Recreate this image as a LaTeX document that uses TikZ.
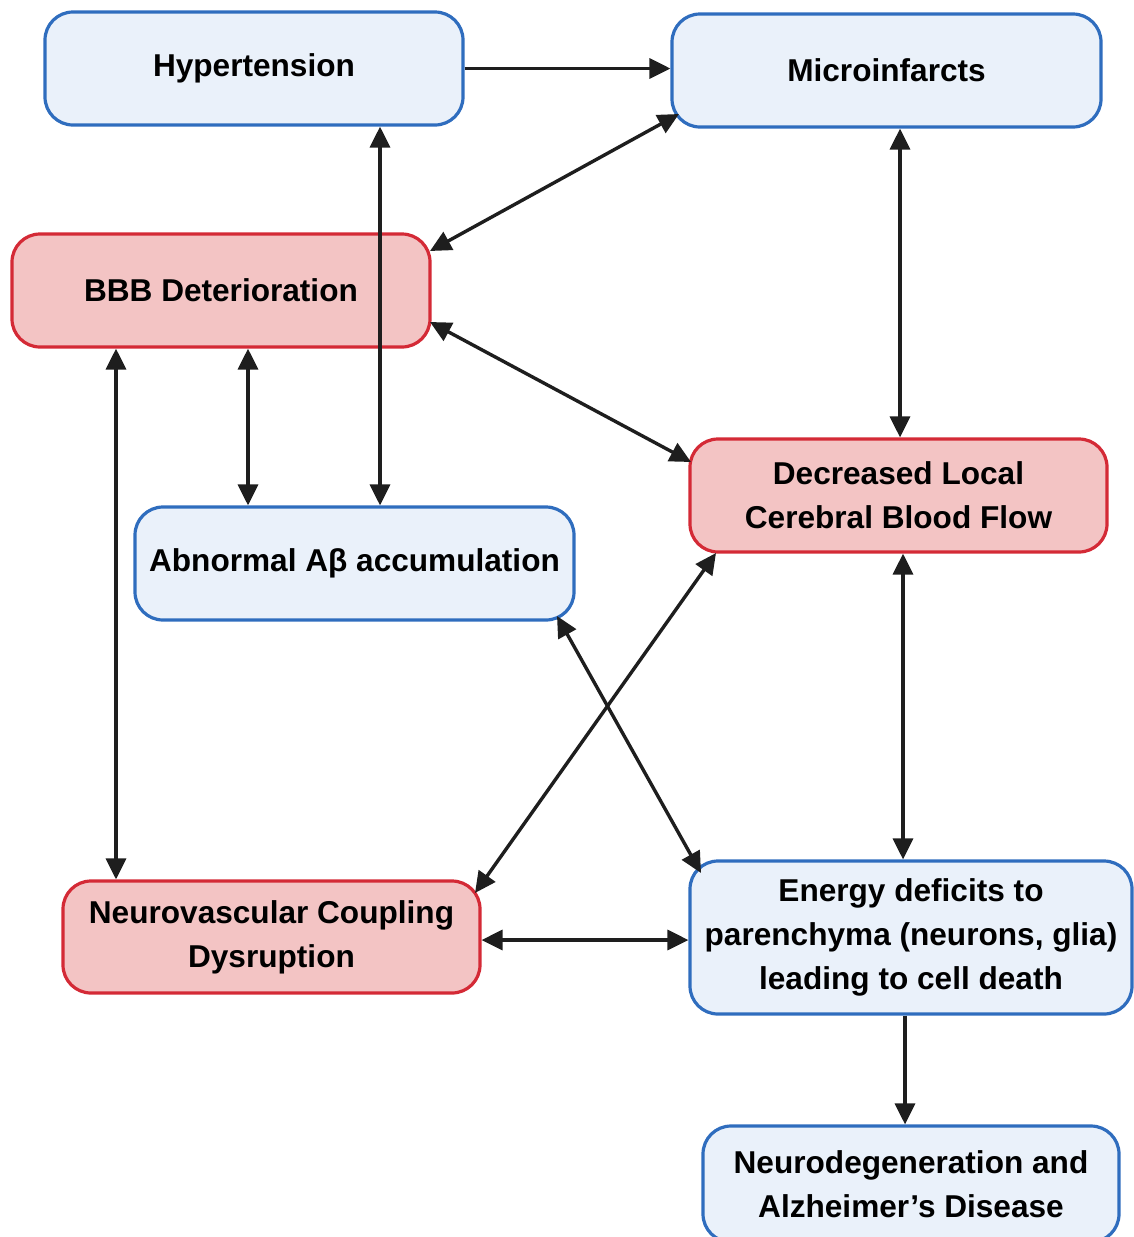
\documentclass[tikz,border=0pt]{standalone}
\usepackage{fontspec}
\setmainfont{Liberation Sans}
\usetikzlibrary{arrows.meta}
\definecolor{bfill}{HTML}{EAF1FA}
\definecolor{bdraw}{HTML}{2F6DBE}
\definecolor{rfill}{HTML}{F3C4C4}
\definecolor{rdraw}{HTML}{D42A36}
\definecolor{arr}{HTML}{1E1E1E}
\tikzset{
  box/.style={rounded corners=14pt, line width=1.6pt, align=center,
    font=\bfseries\fontsize{15.8}{22}\selectfont, inner sep=0pt},
  bluebox/.style={box, draw=bdraw, fill=bfill},
  redbox/.style={box, draw=rdraw, fill=rfill},
  link/.style={draw=arr, line width=1.7pt, -{Triangle[length=10.5pt,width=10pt]}},
  blink/.style={draw=arr, line width=1.7pt, {Triangle[length=10.5pt,width=10pt]}-{Triangle[length=10.5pt,width=10pt]}}
}
\begin{document}
\begin{tikzpicture}[x=0.5pt,y=-0.5pt]
\useasboundingbox (0,0) rectangle (1134,1237);
\node[bluebox, minimum width=209pt, minimum height=56.5pt] (hyp) at (254,68.5) {Hypertension};
\node[bluebox, minimum width=214.5pt, minimum height=56.5pt] (mic) at (886.5,70.5) {Microinfarcts};
\node[redbox, minimum width=209pt, minimum height=56.5pt] (bbb) at (221,290.5) {BBB Deterioration};
\node[redbox, minimum width=208.5pt, minimum height=56.5pt] (dcb) at (898.5,495.5) {Decreased Local\\Cerebral Blood Flow};
\node[bluebox, minimum width=219.5pt, minimum height=56.5pt] (abe) at (354.5,563.5) {Abnormal Aβ accumulation};
\node[redbox, minimum width=208.5pt, minimum height=56pt] (nvc) at (271.5,937) {Neurovascular Coupling\\Dysruption};
\node[bluebox, minimum width=221pt, minimum height=76.5pt] (ene) at (911,937.5) {Energy deficits to\\parenchyma (neurons, glia)\\leading to cell death};
\node[bluebox, minimum width=208pt, minimum height=58pt] (neu) at (911,1184) {Neurodegeneration and\\Alzheimer's Disease};

\draw[link] (hyp.east) -- (mic.west |- hyp.east);
\draw[blink] (hyp.south -| 380,0) -- (abe.north -| 380,0);
\draw[blink] (bbb.south -| 248,0) -- (abe.north -| 248,0);
\draw[blink] (bbb.south -| 116,0) -- (nvc.north -| 116,0);
\draw[blink] (mic.south -| 900,0) -- (dcb.north -| 900,0);
\draw[blink] (dcb.south -| 903,0) -- (ene.north -| 903,0);
\draw[link] (ene.south -| 905,0) -- (neu.north -| 905,0);
\draw[blink] (nvc.east |- 0,940) -- (ene.west |- 0,940);
\coordinate (m1) at (679,114);
\coordinate (b1) at (430,251);
\draw[blink] (m1) -- (b1);
\coordinate (b2) at (430,322);
\coordinate (d1) at (691,462);
\draw[blink] (b2) -- (d1);
\coordinate (a1) at (557,616);
\coordinate (e1) at (701,873);
\draw[blink] (a1) -- (e1);
\coordinate (d2) at (716,553);
\coordinate (n1) at (475,893);
\draw[blink] (d2) -- (n1);
\end{tikzpicture}
\end{document}
